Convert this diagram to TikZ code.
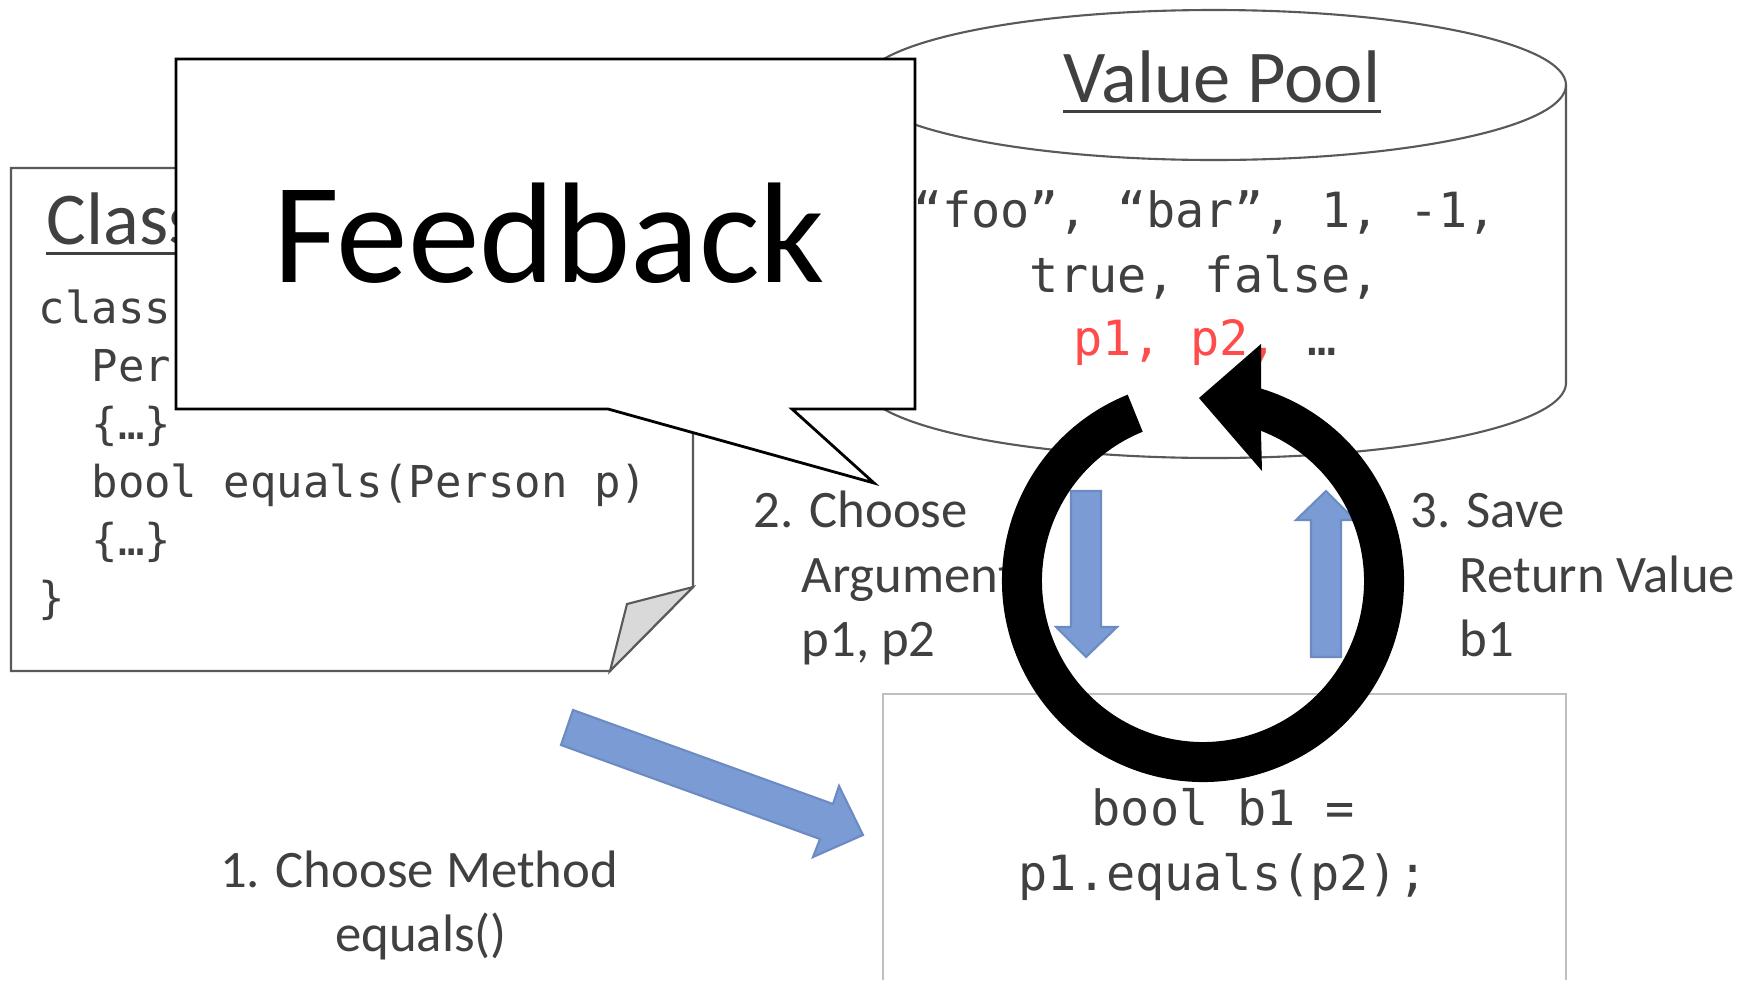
\documentclass[tikz,border=0pt]{standalone}
\usepackage{fontspec}
\setmainfont{Carlito}
\newfontfamily\codefont{DejaVu Sans Mono}
\definecolor{txtgray}{HTML}{404040}
\definecolor{linegray}{HTML}{595959}
\definecolor{boxgray}{HTML}{BFBFBF}
\definecolor{foldgray}{HTML}{D9D9D9}
\definecolor{poolred}{HTML}{FF4B4B}
\definecolor{arrowblue}{HTML}{7B9BD4}
\definecolor{arrowedge}{HTML}{6C8BC2}
\tikzset{
  docline/.style={draw=linegray, line width=0.6pt, line join=miter},
  heading/.style={anchor=base, inner sep=0pt, text=txtgray, font=\fontsize{21.2}{25}\selectfont},
  codeline/.style={anchor=base west, inner sep=0pt, text=txtgray, font=\codefont\fontsize{12.5}{15}\selectfont},
  poolline/.style={anchor=base, inner sep=0pt, text=txtgray, font=\codefont\fontsize{13.8}{16}\selectfont},
  stepnote/.style={anchor=base west, inner sep=0pt, text=txtgray, font=\fontsize{15}{18}\selectfont},
  blockarrow/.style={fill=arrowblue, draw=arrowedge, line width=0.6pt, line join=miter}
}
\begin{document}
\begin{tikzpicture}
  \useasboundingbox (0,0) rectangle (17.52,9.80);
  % class file with folded corner
  \draw[docline, fill=white] (0.11,8.12) -- (6.93,8.12) -- (6.93,3.93) -- (6.10,3.09) -- (0.11,3.09) -- cycle;
  \draw[docline, fill=foldgray] (6.93,3.93) -- (6.27,3.76) -- (6.10,3.09) -- cycle;
  \node[heading, anchor=base west] (cls) at (0.46,7.36) {Class};
  \draw[txtgray, line width=0.85pt] ([yshift=-2.8pt]cls.base west) -- ([yshift=-2.8pt]cls.base east);
  \foreach \t [count=\i] in {class, {\phantom{xx}Per}, {\phantom{xx}\{…\}}, {\phantom{xx}bool equals(Person p)}, {\phantom{xx}\{…\}}, \}}
    \node[codeline] (code\i) at (0.38,{6.57-0.58*(\i-1)}) {\t};

  % value pool
  \draw[docline, fill=white] (8.62,8.95) -- (8.62,5.97) arc[start angle=180, end angle=360, x radius=3.52, y radius=0.75] -- (15.66,8.95);
  \draw[docline] (12.14,8.95) ellipse[x radius=3.52, y radius=0.75];
  \node[heading] (pool) at (12.22,8.78) {Value Pool};
  \draw[txtgray, line width=0.85pt] ([yshift=-2.8pt]pool.base west) -- ([yshift=-2.8pt]pool.base east);
  \node[poolline] (val1) at (12.05,7.53) {“foo”, “bar”, 1, -1,};
  \node[poolline] (val2) at (12.05,6.88) {true, false,};
  \node[poolline] (val3) at (12.05,6.25) {\textcolor{poolred}{p1, p2,} …};

  % call site
  \draw[draw=boxgray, line width=0.6pt] (8.83,0) -- (8.83,2.86) -- (15.66,2.86) -- (15.66,0);
  \node[poolline] (call1) at (12.23,1.55) {bool b1 =};
  \node[poolline] (call2) at (12.23,0.90) {p1.equals(p2);};

  % step labels
  \node[stepnote] (arg1) at (7.53,4.53) {2. Choose};
  \node[stepnote] (arg2) at (8.01,3.88) {Arguments};
  \node[stepnote] (arg3) at (8.01,3.24) {p1, p2};
  \node[stepnote] (ret1) at (14.10,4.53) {3. Save};
  \node[stepnote] (ret2) at (14.59,3.88) {Return Value};
  \node[stepnote] (ret3) at (14.59,3.24) {b1};
  \node[stepnote, anchor=base] (meth1) at (4.19,0.93) {1. Choose Method};
  \node[stepnote, anchor=base] (meth2) at (4.21,0.29) {equals()};

  % callout
  \draw[black, line width=0.8pt, fill=white, line join=miter] (1.76,9.21) -- (9.15,9.21) -- (9.15,5.71) -- (7.92,5.71) -- (8.74,4.97) -- (6.08,5.71) -- (1.76,5.71) -- cycle;
  \node[anchor=base, inner sep=0pt, font=\fontsize{40.8}{48}\selectfont] (fb) at (5.49,6.98) {Feedback};

  % block arrows
  \draw[blockarrow] (5.73,2.70) -- (8.33,1.76) -- (8.39,1.94) -- (8.63,1.45) -- (8.13,1.23) -- (8.20,1.41) -- (5.61,2.35) -- cycle;
  \draw[blockarrow] (10.71,4.89) -- (11.01,4.89) -- (11.01,3.53) -- (11.17,3.53) -- (10.86,3.23) -- (10.56,3.53) -- (10.71,3.53) -- cycle;
  \draw[blockarrow] (13.11,3.23) -- (13.41,3.23) -- (13.41,4.60) -- (13.55,4.60) -- (13.26,4.89) -- (12.96,4.60) -- (13.11,4.60) -- cycle;

  % circular arrow
  \coordinate (ring) at (12.03,3.99);
  \fill ([shift={(ring)}]112:2.01) arc[start angle=112, end angle=433.2, radius=2.01] -- (12.61,6.36) -- (11.99,5.82) -- (12.62,5.09) -- ([shift={(ring)}]68.9:1.61) arc[start angle=68.9, end angle=-248, radius=1.61] -- cycle;
\end{tikzpicture}
\end{document}
